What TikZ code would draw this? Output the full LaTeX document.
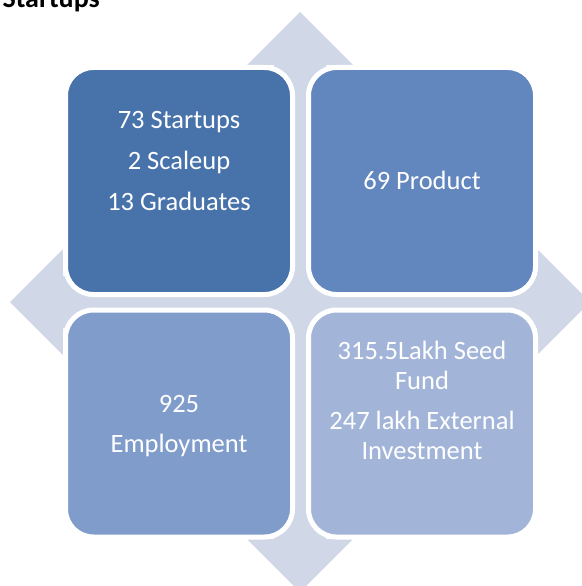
\documentclass[tikz,border=0pt]{standalone}
\usepackage{fontspec}
\setmainfont{Carlito}
\usepackage{tikz}
\usetikzlibrary{shapes,arrows}
\definecolor{crossblue}{RGB}{208,216,232}
\definecolor{cellA}{RGB}{71,114,170}
\definecolor{cellB}{RGB}{98,134,190}
\definecolor{cellC}{RGB}{128,156,203}
\definecolor{cellD}{RGB}{162,181,216}
\tikzset{
  cell/.style={rectangle, rounded corners=28pt, draw=white, line width=5pt, minimum width=227pt, minimum height=227pt},
  celltext/.style={text=white, align=center, anchor=base, inner sep=0pt, font=\fontsize{26.5}{30}\selectfont}
}
\newcommand{\mxcell}[3] {\node at (#1) (#2) [cell, fill=#3] {};}
\newcommand{\mxlabel}[3] {\node at (#1) (#2) [celltext] {#3};}

\begin{document}
\begin{tikzpicture}[x=1pt, y=-1pt]
\useasboundingbox (0,0) rectangle (581,586);
% four-way arrow behind the matrix
\fill [crossblue] (300,12) -- (353,65) -- (326,65) -- (326,276) -- (537,276) -- (537,249)
  -- (590,302) -- (537,355) -- (537,328) -- (326,328) -- (326,539) -- (353,539)
  -- (300,592) -- (247,539) -- (274,539) -- (274,328) -- (63,328) -- (63,355)
  -- (10,302) -- (63,249) -- (63,276) -- (274,276) -- (274,65) -- (247,65) -- cycle;

\node at (-1,8) (title) [anchor=base west, font=\fontsize{28}{32}\selectfont\bfseries] {Startups};

\mxcell {179,181} {startups} {cellA};
\mxcell {422,181} {product} {cellB};
\mxcell {179,423.5} {employment} {cellC};
\mxcell {422,423.5} {funding} {cellD};

% base of a multi-line label is its last line
\mxlabel {179,210} {startupstext} {73 Startups\\[11pt]2 Scaleup\\[11pt]13 Graduates};
\mxlabel {422,189} {producttext} {69 Product};
\mxlabel {179,452} {employmenttext} {925\\[10pt]Employment};
\mxlabel {422,459} {fundingtext} {315.5Lakh Seed\\Fund\\[10pt]247 lakh External\\Investment};
\end{tikzpicture}
\end{document}
